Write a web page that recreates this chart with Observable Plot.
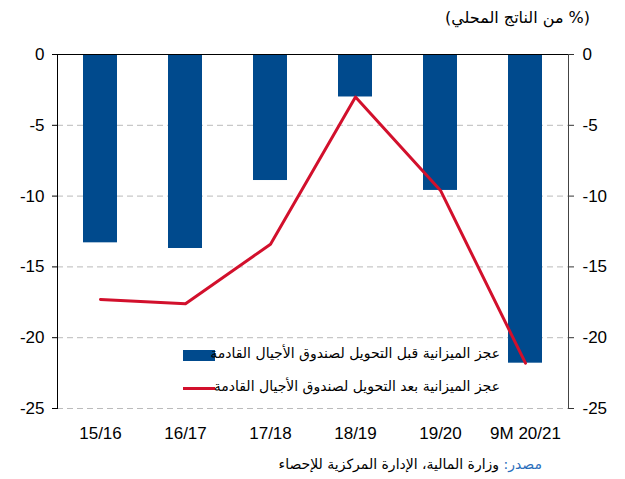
<!DOCTYPE html>
<html><head><meta charset="utf-8">
<script src="https://cdn.jsdelivr.net/npm/d3@7"></script>
<script src="https://cdn.jsdelivr.net/npm/@observablehq/plot@0.6"></script>
<style>
body{margin:0;background:#fff;font-family:"Liberation Sans",Arial,sans-serif;}
#wrap{position:relative;width:625px;height:479px;overflow:hidden;}
.abs{position:absolute;white-space:nowrap;}
.ar{font-family:"DejaVu Sans","Liberation Sans",sans-serif;direction:rtl;}
</style></head>
<body><div id="wrap"></div>
<script>
const years = ["15/16","16/17","17/18","18/19","19/20","9M 20/21"];
const beforeTransfer = [-13.3,-13.7,-8.9,-3.0,-9.6,-21.8];
const afterTransfer = [-17.3,-17.6,-13.4,-3.0,-9.6,-21.8];
const yTicks = [0,-5,-10,-15,-20,-25];
const titleText = "(% من الناتج المحلي)";
const legendBefore = "عجز الميزانية قبل التحويل لصندوق الأجيال القادمة";
const legendAfter = "عجز الميزانية بعد التحويل لصندوق الأجيال القادمة";
const sourceLabel = "مصدر:";
const sourceText = " وزارة المالية، الإدارة المركزية للإحصاء";

const barsData = years.map((y,i)=>({year:y, value:beforeTransfer[i]}));
const lineData = years.map((y,i)=>({year:y, value:afterTransfer[i]}));

const blue = "#004a8d", red = "#d2102c";
const fmt = d => String(d);

const chart = Plot.plot({
  width:625, height:479,
  marginTop:54, marginBottom:71, marginLeft:57, marginRight:57,
  style:{fontFamily:"Liberation Sans, Arial, sans-serif", fontSize:"17px", color:"#000", background:"transparent"},
  x:{domain:years, paddingInner:0.6, paddingOuter:0.3, label:null},
  y:{domain:[-25,0], label:null},
  marks:[
    Plot.gridY(yTicks.filter(d=>d!==0), {stroke:"#bbb", strokeOpacity:1, strokeDasharray:"6,4", strokeWidth:1}),
    Plot.barY(barsData, {x:"year", y:"value", fill:blue}),
    Plot.ruleY([0], {stroke:"#000", strokeWidth:1.2}),
    Plot.line(lineData, {x:"year", y:"value", stroke:red, strokeWidth:3}),
    Plot.axisY({anchor:"left", ticks:yTicks, tickFormat:fmt, tickSize:5, tickPadding:8, label:null, fontSize:17}),
    Plot.axisY({anchor:"right", ticks:yTicks, tickFormat:fmt, tickSize:5, tickPadding:9, label:null, fontSize:17, stroke:"#333"}),
    Plot.axisX({tickSize:0, tickPadding:18, label:null, fontSize:17}),
    Plot.frame({anchor:"left", stroke:"#000"}),
    Plot.frame({anchor:"right", stroke:"#444"})
  ]
});
const wrap = document.getElementById("wrap");
chart.style.position="absolute"; chart.style.left="0"; chart.style.top="0";
wrap.appendChild(chart);

function addText(html, css, cls){
  const d=document.createElement("div"); d.className="abs "+(cls||""); d.innerHTML=html;
  Object.assign(d.style, css); wrap.appendChild(d); return d;
}
addText(titleText, {right:"35px", top:"8px", fontSize:"16px"}, "ar");
// legend
addText("", {left:"183px", top:"350px", width:"32px", height:"11px", background:blue});
addText(legendBefore, {right:"125px", top:"345px", fontSize:"14px"}, "ar");
addText("", {left:"183px", top:"387px", width:"32px", height:"3px", background:red});
addText(legendAfter, {right:"125px", top:"378px", fontSize:"14px"}, "ar");
// source
addText('<span style="color:#2a6ebb">'+sourceLabel+'</span>'+sourceText, {right:"83px", top:"456px", fontSize:"14px"}, "ar");
</script></body></html>
